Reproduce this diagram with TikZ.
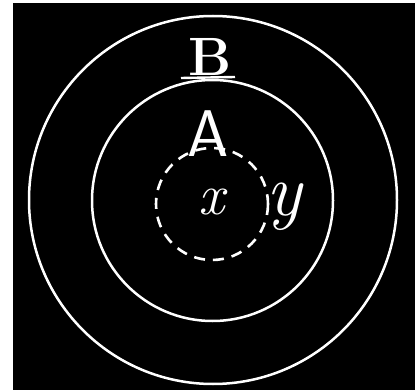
\documentclass[tikz,border=0pt]{standalone}
\begin{document}
\begin{tikzpicture}[x=1pt,y=-1pt,
  ring/.style={draw=white,line width=2.5pt},
  dashring/.style={draw=white,line width=2.6pt,dash pattern=on 11pt off 8pt},
  letter/.style={text=white,inner sep=0pt}]
\useasboundingbox (0,0) rectangle (415,390);
\fill[white] (0,0) rectangle (415,390);
\fill[black] (13,3) rectangle (415,390);
\coordinate (c) at (213,200);
\draw[ring] (c) circle[radius=184];
\draw[ring] (212.5,200.5) circle[radius=120.5];
\draw[dashring] (212,204) circle[radius=56];
\node[letter,font=\bfseries\fontsize{54}{54}\selectfont] (B) at (210,57) {B};
\coordinate (ul1) at (181,78);
\coordinate (ul2) at (235,77);
\draw[white,line width=2.4pt] (ul1) -- (ul2);
\node[letter,font=\sffamily\fontsize{66}{66}\selectfont] (A) at (208,134) {A};
\node[letter,font=\itshape\fontsize{58}{58}\selectfont] (x) at (212,202) {x};
\node[letter,font=\itshape\fontsize{74}{74}\selectfont] (y) at (284,207) {y};
\end{tikzpicture}
\end{document}
